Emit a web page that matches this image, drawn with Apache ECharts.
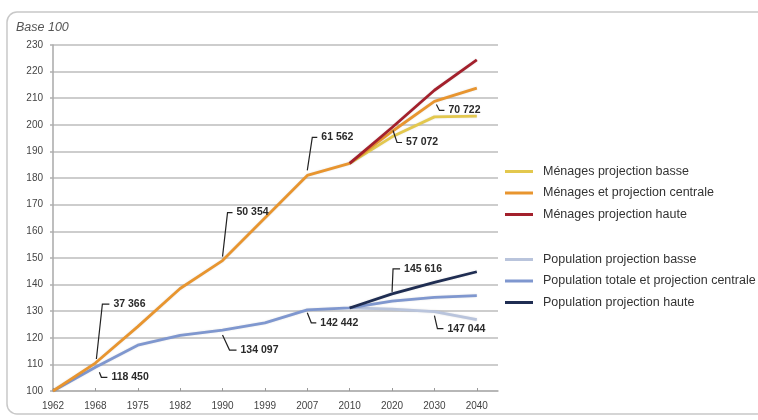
<!DOCTYPE html>
<html>
<head>
<meta charset="utf-8">
<script src="https://cdn.jsdelivr.net/npm/echarts@6/dist/echarts.min.js"></script>
<style>
html,body{margin:0;padding:0;background:#fff;}
#chart{width:758px;height:420px;}
</style>
</head>
<body>
<div id="chart"></div>
<script>
// ---- data ----
const years = ['1962','1968','1975','1982','1990','1999','2007','2010','2020','2030','2040'];
const yTicks = [100,110,120,130,140,150,160,170,180,190,200,210,220,230];

const menagesCentrale = [100, 110.5, 124.2, 138.5, 149, 165, 181, 185.5, 197.5, 208.8, 213.8];
const menagesBasse    = [null, null, null, null, null, null, null, 185.5, 195.5, 203, 203.3];
const menagesHaute    = [null, null, null, null, null, null, null, 185.5, 199, 213, 224.4];

const popCentrale = [100, 108.9, 117.2, 120.9, 122.9, 125.6, 130.5, 131.2, 133.8, 135.2, 135.8];
const popBasse    = [null, null, null, null, null, null, null, 131.2, 130.8, 129.8, 126.8];
const popHaute    = [null, null, null, null, null, null, null, 131.2, 136.5, 140.8, 144.8];

const seriesNames = [
  'Ménages projection basse',
  'Ménages et projection centrale',
  'Ménages projection haute',
  'Population projection basse',
  'Population totale et projection centrale',
  'Population projection haute'
];

// callouts: label text, which series it points to, and at which year index
const calloutTexts  = ['37 366', '118 450', '50 354', '61 562', '134 097', '142 442', '145 616', '147 044', '57 072', '70 722'];
const calloutSeries = ['menagesCentrale', 'popCentrale', 'menagesCentrale', 'menagesCentrale', 'popCentrale', 'popCentrale', 'popHaute', 'popBasse', 'menagesCentrale', 'menagesCentrale'];
const calloutIndex  = [1, 1, 4, 6, 4, 6, 8, 9, 8, 9];

// ---- layout / style (not data) ----
const calloutLayout = [
  {s:[1,-4],  e:[7,-59], h:7},
  {s:[4,5],   e:[6,10],  h:6},
  {s:[0,-4],  e:[5,-48], h:5},
  {s:[0,-5],  e:[5,-38], h:5},
  {s:[0,5],   e:[7,20],  h:7},
  {s:[0,3],   e:[4,13],  h:5},
  {s:[0,-2],  e:[1,-25], h:7},
  {s:[0,4],   e:[3,17],  h:6},
  {s:[1,-1],  e:[5,11],  h:5},
  {s:[2,3],   e:[5,9],   h:5}
];

const seriesSrc = {menagesCentrale, menagesBasse, menagesHaute, popCentrale, popBasse, popHaute};
const colors = {
  menagesBasse: '#e3c84e',
  menagesCentrale: '#e8952f',
  menagesHaute: '#a3202c',
  popBasse: '#b9c4dc',
  popCentrale: '#7f97cf',
  popHaute: '#1f2d52'
};

function pairs(arr){
  const out = [];
  arr.forEach((v,i)=>{ if(v!==null) out.push([i, v]); });
  return out;
}
function lineSeries(name, key, z){
  return {
    name: name, type: 'line', data: pairs(seriesSrc[key]),
    showSymbol: false, symbol: 'none', z: z,
    lineStyle: {color: colors[key], width: 2.8, shadowColor: 'rgba(0,0,0,0.12)', shadowBlur: 2},
    itemStyle: {color: colors[key]},
    emphasis: {disabled: true},
    animation: false
  };
}

const calloutData = calloutTexts.map((t,i)=>[calloutIndex[i], seriesSrc[calloutSeries[i]][calloutIndex[i]], i]);

const chart = echarts.init(document.getElementById('chart'), null, {renderer:'canvas'});
const FONT = '"Liberation Sans", Arial, sans-serif';
const legendText = {fontFamily: FONT, fontSize: 12.5, color: '#333', lineHeight: 13, padding: [0,0,0,5]};

chart.setOption({
  animation: false,
  backgroundColor: '#ffffff',
  title: {
    text: 'Base 100', left: 11, top: 16,
    textStyle: {fontFamily: FONT, fontSize: 12.5, fontStyle: 'italic', fontWeight: 'normal', color: '#555'}
  },
  graphic: [{
    type: 'rect', silent: true, z: -10,
    shape: {x: 7, y: 12, width: 770, height: 402, r: 10},
    style: {fill: 'none', stroke: '#c8c8c8', lineWidth: 1.5}
  }],
  grid: {left: 53, top: 45, right: 260, bottom: 29},
  legend: [{
    data: seriesNames.slice(0,3), orient: 'vertical', left: 505, top: 165,
    icon: 'rect', itemWidth: 28, itemHeight: 3, itemGap: 8.5,
    textStyle: legendText,
    selectedMode: false, padding: 0
  },{
    data: seriesNames.slice(3), orient: 'vertical', left: 505, top: 253,
    icon: 'rect', itemWidth: 28, itemHeight: 3, itemGap: 8.5,
    textStyle: legendText,
    selectedMode: false, padding: 0
  }],
  xAxis: {
    type: 'value', min: 0, max: 10.5, interval: 1,
    axisLine: {show: true, lineStyle: {color: '#b0b0b0', width: 1.5}},
    axisTick: {show: true, inside: true, length: 3, lineStyle: {color: '#999'}, customValues: years.map((y,i)=>i)},
    axisLabel: {
      customValues: years.map((y,i)=>i),
      formatter: v => years[v] !== undefined ? years[v] : '',
      fontFamily: FONT, fontSize: 10, color: '#444', margin: 10
    },
    splitLine: {show: false}
  },
  yAxis: {
    type: 'value', min: yTicks[0], max: yTicks[yTicks.length-1], interval: 10,
    axisLine: {show: true, lineStyle: {color: '#a8a8a8', width: 1.5}},
    axisTick: {show: true, length: 3, lineStyle: {color: '#b0b0b0', width: 1.5}},
    axisLabel: {fontFamily: FONT, fontSize: 10, color: '#444', margin: 10},
    splitLine: {show: true, lineStyle: {color: '#bcbcbc', width: 1.5}}
  },
  series: [
    lineSeries(seriesNames[3], 'popBasse', 2),
    lineSeries(seriesNames[4], 'popCentrale', 3),
    lineSeries(seriesNames[5], 'popHaute', 4),
    lineSeries(seriesNames[0], 'menagesBasse', 5),
    lineSeries(seriesNames[1], 'menagesCentrale', 6),
    lineSeries(seriesNames[2], 'menagesHaute', 7),
    {
      type: 'custom', z: 20, silent: true, clip: false,
      encode: {x: 0, y: 1},
      data: calloutData,
      renderItem: function(params, api){
        const i = api.value(2);
        const p = api.coord([api.value(0), api.value(1)]);
        const L = calloutLayout[i];
        const s = [p[0]+L.s[0], p[1]+L.s[1]];
        const e = [p[0]+L.e[0], p[1]+L.e[1]];
        const end = [e[0]+L.h, e[1]];
        return {
          type: 'group',
          children: [
            {type: 'polyline', shape: {points: [s, e, end]}, style: {stroke: '#222', lineWidth: 1.2, fill: null}},
            {type: 'text', style: {text: calloutTexts[i], x: end[0]+4, y: end[1], align: 'left', verticalAlign: 'middle',
              fill: '#2a2a2a', fontFamily: FONT, fontSize: 10.5, fontWeight: 'bold'}}
          ]
        };
      }
    }
  ]
});
</script>
</body>
</html>
